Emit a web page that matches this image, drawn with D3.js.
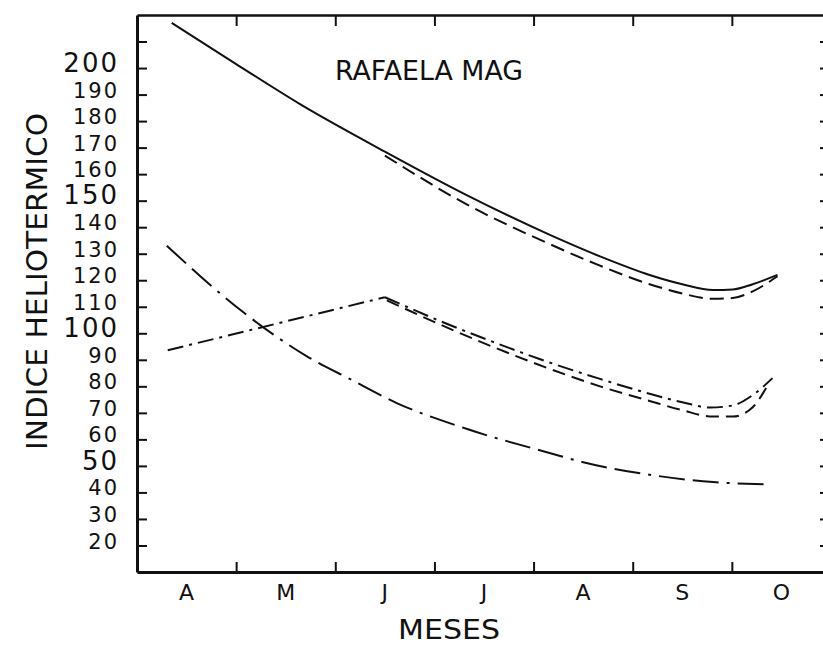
<!DOCTYPE html>
<meta charset="utf-8">
<head>
<style>
body { margin: 0; background: #fff; }
svg { display: block; }
.axis path { stroke: #111; fill: none; }
.axis line { stroke: #111; stroke-width: 2; }
.serie { fill: none; stroke: #111; stroke-width: 2; }
text { font-family: "DejaVu Sans", sans-serif; fill: #111; }
</style>
</head>
<body>
<script src="https://cdn.jsdelivr.net/npm/d3@7/dist/d3.min.js"></script>
<script>

// meses (abril a octubre)
var months = ["A", "M", "J", "J", "A", "S", "O"];
var monthBounds = [0, 1, 2, 3, 4, 5, 6, 7];

// eje Y
var yTicks = [20, 30, 40, 50, 60, 70, 80, 90, 100, 110, 120, 130, 140, 150, 160, 170, 180, 190, 200, 210];
var bigLabels = [200, 150, 100, 50];

// series: [posicion en meses, indice heliotermico]
var solid = [[0.35, 217], [1.0, 201.5], [1.64, 186.5], [2.50, 168.5], [3.33, 152], [4.17, 137], [4.67, 129], [5.17, 122], [5.5, 118.5], [5.81, 116.3], [6.01, 116.5], [6.21, 118.5], [6.46, 122]];
var dashedHigh = [[2.50, 167], [3.33, 148.5], [4.17, 133.5], [4.67, 125.5], [5.17, 118.5], [5.5, 115], [5.81, 113], [6.01, 113.3], [6.21, 115.8], [6.46, 121.5]];
var longDashDot = [[0.30, 133], [1.07, 108], [1.71, 91.4], [2.15, 82.7], [2.62, 73.7], [3.33, 63.9], [4.17, 54.8], [4.49, 51.5], [5.20, 46.5], [5.81, 43.9], [6.33, 43.1]];
var dashDotUp = [[0.31, 93.6], [2.50, 113.6]];
var dashDotDown = [[2.50, 113.6], [3.13, 103.5], [3.63, 96.2], [4.06, 90.3], [4.67, 82.8], [5.17, 77.2], [5.5, 74], [5.78, 72], [6.01, 72.8], [6.21, 76.7], [6.41, 83.1]];
var dashedLow = [[2.52, 112.4], [3.23, 100.5], [3.99, 89], [4.67, 80], [5.17, 74.5], [5.5, 71], [5.81, 68.6], [6.01, 68.6], [6.21, 72.1], [6.35, 79.7]];

var W = 823, H = 645;

var svg = d3.select("body").append("svg")
    .attr("width", W)
    .attr("height", H);

var x = d3.scaleLinear().domain([0, 7]).range([137, 831]);
var y = d3.scaleLinear().domain([10, 220]).range([572, 15]);

// left axis
var yAxis = svg.append("g")
    .attr("class", "axis")
    .attr("transform", "translate(" + x(0) + ",0)")
    .call(d3.axisLeft(y).tickValues(yTicks).tickSize(-10).tickSizeOuter(0).tickPadding(18)
        .tickFormat(function(d) { return d == 210 ? "" : d; }));
yAxis.select(".domain").attr("stroke-width", 3);
yAxis.selectAll("text")
    .attr("font-size", function(d) { return bigLabels.indexOf(d) >= 0 ? 26 : 21; })
    .attr("letter-spacing", 2)
    .attr("dy", "0.12em")
    .attr("fill", "#111");

// right axis (only tick ends visible)
var rAxis = svg.append("g")
    .attr("class", "axis")
    .attr("transform", "translate(" + (x(7) + 2) + ",0)")
    .call(d3.axisRight(y).tickValues(yTicks).tickSize(-13).tickSizeOuter(0).tickFormat(""));
rAxis.selectAll("line").attr("stroke-width", 1.5);

// bottom axis
var xAxis = svg.append("g")
    .attr("class", "axis")
    .attr("transform", "translate(0," + y(10) + ")")
    .call(d3.axisBottom(x).tickValues(monthBounds.slice(1)).tickSize(-10).tickSizeOuter(0).tickFormat(""));
xAxis.select(".domain").attr("stroke-width", 3);

// top axis
var tAxis = svg.append("g")
    .attr("class", "axis")
    .attr("transform", "translate(0," + y(220) + ")")
    .call(d3.axisTop(x).tickValues(monthBounds.slice(1)).tickSize(-11).tickSizeOuter(0).tickFormat(""));
tAxis.select(".domain").attr("stroke-width", 2.5);

// month labels
svg.selectAll(".month")
    .data(months)
    .enter()
    .append("text")
    .attr("class", "month")
    .attr("x", function(d, i) { return x(i + 0.5); })
    .attr("y", 600)
    .attr("text-anchor", "middle")
    .attr("font-size", 22)
    .text(function(d) { return d; });

// titles
svg.append("text")
    .attr("x", 335)
    .attr("y", 80)
    .attr("font-size", 26)
    .attr("textLength", 188)
    .attr("lengthAdjust", "spacingAndGlyphs")
    .text("RAFAELA MAG");

svg.append("text")
    .attr("x", 398)
    .attr("y", 639)
    .attr("font-size", 27)
    .attr("textLength", 102)
    .attr("lengthAdjust", "spacingAndGlyphs")
    .text("MESES");

svg.append("text")
    .attr("transform", "translate(47,450) rotate(-90)")
    .attr("font-size", 29)
    .attr("textLength", 337)
    .attr("lengthAdjust", "spacingAndGlyphs")
    .text("INDICE HELIOTERMICO");

// lines
var line = d3.line()
    .x(function(d) { return x(d[0]); })
    .y(function(d) { return y(d[1]); })
    .curve(d3.curveMonotoneX);

var series = [
    {data: solid, dash: null},
    {data: dashedHigh, dash: "14,7"},
    {data: longDashDot, dash: "26,8,26,8,3,8"},
    {data: dashDotUp, dash: "16,6,3,6", curve: d3.curveLinear},
    {data: dashDotDown, dash: "16,6,3,6"},
    {data: dashedLow, dash: "13,7"}
];

svg.selectAll(".serie")
    .data(series)
    .enter()
    .append("path")
    .attr("class", "serie")
    .attr("stroke-dasharray", function(d) { return d.dash; })
    .attr("d", function(d) {
        return line.curve(d.curve || d3.curveMonotoneX)(d.data);
    });

</script>
</body>
